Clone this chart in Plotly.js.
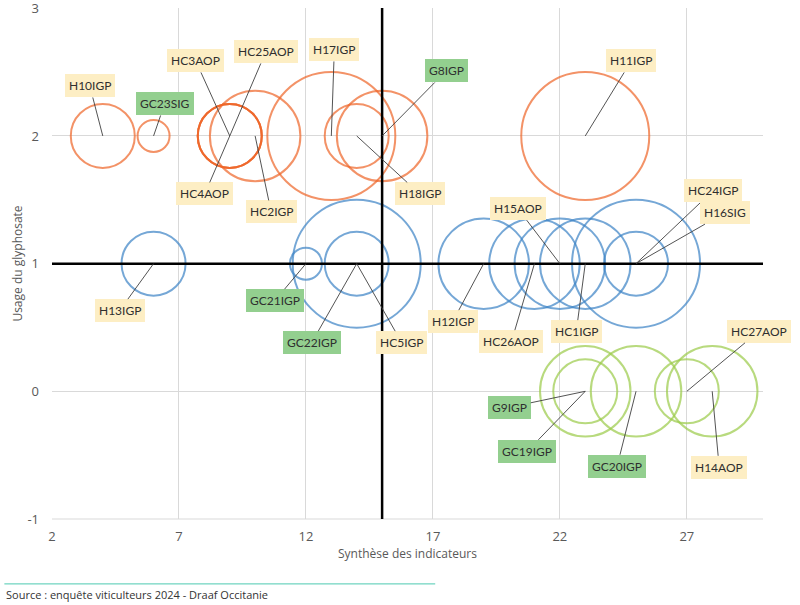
<!DOCTYPE html>
<html>
<head>
<meta charset="utf-8">
<script src="https://cdn.plot.ly/plotly-3.0.1.min.js"></script>
<style>
  html, body { margin: 0; padding: 0; background: #fff; }
  #chart { width: 800px; height: 605px; }
</style>
</head>
<body>
<div id="chart"></div>
<script>
// ---- Data ----
const orangeNames = ['H10IGP', 'GC23SIG', 'HC3AOP', 'HC4AOP', 'HC25AOP', 'HC2IGP', 'H17IGP', 'H18IGP', 'G8IGP', 'H11IGP'];
const orangeX     = [4, 6, 9, 9, 9, 10, 13, 14, 15, 23];
const orangeY     = [2, 2, 2, 2, 2, 2, 2, 2, 2, 2];
const orangeW     = [4, 1, 4, 4, 4, 8, 16, 4, 8, 16];

const blueNames = ['H13IGP', 'GC21IGP', 'GC22IGP', 'HC5IGP', 'H12IGP', 'HC26AOP', 'H15AOP', 'HC1IGP', 'HC24IGP', 'H16SIG'];
const blueX     = [6, 12, 14, 14, 19, 21, 22, 23, 25, 25];
const blueY     = [1, 1, 1, 1, 1, 1, 1, 1, 1, 1];
const blueW     = [4, 1, 16, 4, 8, 8, 8, 8, 16, 4];

const greenNames = ['G9IGP', 'GC19IGP', 'GC20IGP', 'HC27AOP', 'H14AOP'];
const greenX     = [23, 23, 25, 27, 28];
const greenY     = [0, 0, 0, 0, 0];
const greenW     = [8, 4, 8, 4, 8];

const xTickVals = [2, 7, 12, 17, 22, 27];
const yTickVals = [-1, 0, 1, 2, 3];

// ---- Layout helpers (label box offsets, in px from the bubble centre) ----
const labelOffsets = {
  H10IGP: [-13, -50], GC23SIG: [11, -32], HC3AOP: [-34, -75], HC25AOP: [36, -84],
  HC4AOP: [-25, 58], HC2IGP: [16, 76], H17IGP: [3, -86], H18IGP: [63, 58],
  G8IGP: [64, -65], H11IGP: [46, -75],
  H13IGP: [-34, 47], GC21IGP: [-31, 37], GC22IGP: [-45, 79], HC5IGP: [45, 79],
  H12IGP: [-31, 58], HC26AOP: [-23, 78], H15AOP: [-42, -55], HC1IGP: [-9, 68],
  HC24IGP: [77, -73], H16SIG: [89, -51],
  G9IGP: [-76, 16], GC19IGP: [-58, 60], GC20IGP: [-19, 75], HC27AOP: [72, -60],
  H14AOP: [7, 76]
};

const SIZEREF = 32 / 16384;

function bubbleTrace(names, xs, ys, ws, color) {
  return {
    type: 'scatter', mode: 'markers',
    x: xs, y: ys, text: names,
    hoverinfo: 'text',
    marker: {
      size: ws, sizemode: 'area', sizeref: SIZEREF,
      color: 'rgba(0,0,0,0)',
      line: { color: color, width: 2 }
    },
    showlegend: false, cliponaxis: false
  };
}

const traces = [
  bubbleTrace(blueNames, blueX, blueY, blueW, '#3B83C6'),
  bubbleTrace(greenNames, greenX, greenY, greenW, '#9BCB48'),
  bubbleTrace(orangeNames, orangeX, orangeY, orangeW, '#EF6527')
];

const annotations = [];
function addLabels(names, xs, ys) {
  names.forEach((n, i) => {
    const off = labelOffsets[n];
    const isGreen = n.charAt(0) === 'G';
    annotations.push({
      x: xs[i], y: ys[i], xref: 'x', yref: 'y',
      text: n, showarrow: true, arrowhead: 0, arrowwidth: 0.9,
      arrowcolor: '#404040', standoff: 0,
      ax: off[0], ay: off[1],
      bgcolor: isGreen ? '#93CF8F' : '#FDEEC4',
      borderpad: 4, borderwidth: 0,
      font: { family: 'Lato, "Noto Sans", sans-serif', size: 12, color: '#2f2f2f' }
    });
  });
}
addLabels(orangeNames, orangeX, orangeY);
addLabels(blueNames, blueX, blueY);
addLabels(greenNames, greenX, greenY);

annotations.push({
  xref: 'paper', yref: 'paper', x: -0.067, y: -0.147,
  xanchor: 'left', yanchor: 'middle', showarrow: false,
  text: 'Source : enquête viticulteurs 2024 - Draaf Occitanie',
  font: { family: '"Liberation Sans Narrow", "Open Sans", sans-serif', size: 11, color: '#333333' }
});

const layout = {
  width: 800, height: 605,
  margin: { l: 52, r: 37, t: 8, b: 86 },
  paper_bgcolor: '#ffffff', plot_bgcolor: '#ffffff',
  showlegend: false,
  hovermode: 'closest',
  xaxis: {
    range: [2, 30], tickvals: xTickVals, ticktext: xTickVals.map(String),
    showgrid: true, gridcolor: '#D9D9D9', gridwidth: 1,
    zeroline: false, showline: false, ticks: '', ticklabelstandoff: 8,
    tickfont: { family: '"Liberation Sans Narrow", "Open Sans", sans-serif', size: 13, color: '#595959' },
    title: { text: 'Synthèse des indicateurs', standoff: 4,
      font: { family: '"Liberation Sans Narrow", "Open Sans", sans-serif', size: 12, color: '#595959' } }
  },
  yaxis: {
    range: [-1, 3.002], tickvals: yTickVals, ticktext: yTickVals.map(String),
    showgrid: true, gridcolor: '#D9D9D9', gridwidth: 1,
    zeroline: false, showline: false, ticks: '', ticklabelstandoff: 12,
    ticklabeloverflow: 'allow',
    tickfont: { family: '"Liberation Sans Narrow", "Open Sans", sans-serif', size: 13, color: '#595959' },
    title: { text: 'Usage du glyphosate', standoff: 2,
      font: { family: '"Liberation Sans Narrow", "Open Sans", sans-serif', size: 12, color: '#595959' } }
  },
  shapes: [
    { type: 'line', xref: 'paper', yref: 'paper', x0: 0, x1: 1, y0: 0, y1: 0,
      line: { color: '#D9D9D9', width: 1 } },
    { type: 'line', xref: 'x', yref: 'paper', x0: 15, x1: 15, y0: 0, y1: 1,
      line: { color: '#000000', width: 2.5 } },
    { type: 'line', xref: 'paper', yref: 'y', x0: 0, x1: 1, y0: 1, y1: 1,
      line: { color: '#000000', width: 2.5 } },
    { type: 'line', xref: 'paper', yref: 'paper', x0: -0.067, x1: 0.539, y0: -0.127, y1: -0.127,
      line: { color: '#4CC9B0', width: 1 } }
  ],
  annotations: annotations
};

Plotly.newPlot('chart', traces, layout, { displayModeBar: false, staticPlot: true });
</script>
</body>
</html>
